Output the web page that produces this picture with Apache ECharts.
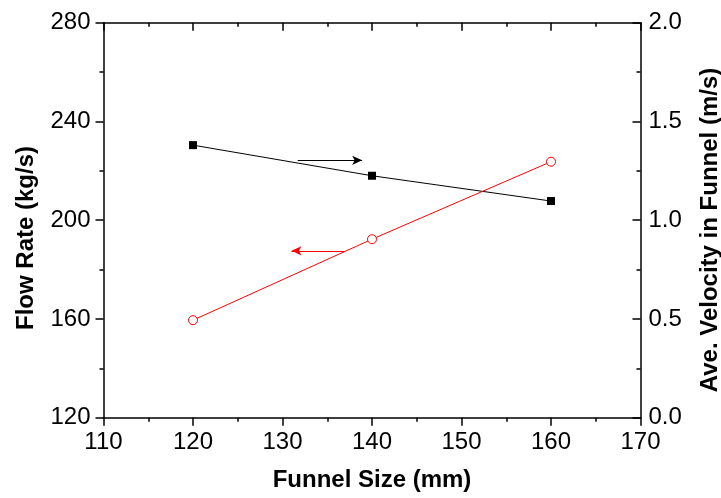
<!DOCTYPE html>
<html>
<head>
<meta charset="utf-8">
<script src="https://cdn.jsdelivr.net/npm/echarts@6/dist/echarts.min.js"></script>
<style>html,body{margin:0;padding:0;background:#fff;}#chart{width:721px;height:498px;}</style>
</head>
<body>
<div id="chart"></div>
<script>
// ---- data ----
var funnelSize = [120, 140, 160];
var flowRate = [159.5, 192.3, 223.7];        // kg/s, left axis
var aveVelocity = [1.38, 1.225, 1.097];      // m/s, right axis
// annotation arrows (data units): [xStart, xEnd, yValue]
var velocityArrow = [131.7, 138.9, 1.303];   // points to right axis
var flowArrow = [136.9, 131.0, 187.6];       // points to left axis
var xTicks = {min: 110, max: 170, interval: 10};
var leftTicks = {min: 120, max: 280, interval: 40};
var rightTicks = {min: 0, max: 2.0, interval: 0.5};
var xTitle = 'Funnel Size (mm)';
var leftTitle = 'Flow Rate (kg/s)';
var rightTitle = 'Ave. Velocity in Funnel (m/s)';

var FONT = 'Liberation Sans, Arial, Helvetica, sans-serif';
var lineStyle = {color: '#000', width: 1.5};
function xAxis(pos) {
  var top = pos === 'top';
  return {
    type: 'value', position: pos,
    min: xTicks.min, max: xTicks.max, interval: xTicks.interval,
    axisLine: {show: true, onZero: false, lineStyle: lineStyle},
    axisTick: {show: true, inside: top, length: 8, lineStyle: lineStyle},
    minorTick: {show: true, splitNumber: 2, length: 4, lineStyle: lineStyle},
    splitLine: {show: false},
    axisLabel: {show: !top, color: '#000', fontFamily: FONT, fontSize: 24, margin: 13},
    name: top ? '' : xTitle,
    nameLocation: 'middle', nameGap: 51,
    nameTextStyle: {color: '#000', fontFamily: FONT, fontSize: 24, fontWeight: 'bold'}
  };
}
var chart = echarts.init(document.getElementById('chart'), null, {renderer: 'canvas'});
chart.setOption({
  backgroundColor: '#fff',
  animation: false,
  grid: {left: 103.5, right: 80.5, top: 22.7, bottom: 80.3, containLabel: false, outerBoundsMode: 'none'},
  graphic: [
    {type: 'text', x: 26, y: 238, rotation: Math.PI / 2, silent: true,
     style: {text: leftTitle, fill: '#000', font: 'bold 24px ' + FONT, textAlign: 'center', textVerticalAlign: 'middle'}},
    {type: 'text', x: 710, y: 230, rotation: Math.PI / 2, silent: true,
     style: {text: rightTitle, fill: '#000', font: 'bold 24px ' + FONT, textAlign: 'center', textVerticalAlign: 'middle'}}
  ],
  xAxis: [xAxis('bottom'), xAxis('top')],
  yAxis: [
    {
      type: 'value', position: 'left',
      min: leftTicks.min, max: leftTicks.max, interval: leftTicks.interval,
      axisLine: {show: true, onZero: false, lineStyle: lineStyle},
      axisTick: {show: true, inside: false, length: 8, lineStyle: lineStyle},
      minorTick: {show: true, splitNumber: 2, length: 4, lineStyle: lineStyle},
      splitLine: {show: false},
      axisLabel: {color: '#000', fontFamily: FONT, fontSize: 24, margin: 13}
    },
    {
      type: 'value', position: 'right',
      min: rightTicks.min, max: rightTicks.max, interval: rightTicks.interval,
      axisLine: {show: true, onZero: false, lineStyle: lineStyle},
      axisTick: {show: true, inside: true, length: 8, lineStyle: lineStyle},
      minorTick: {show: true, splitNumber: 2, length: 4, lineStyle: lineStyle},
      splitLine: {show: false},
      axisLabel: {color: '#000', fontFamily: FONT, fontSize: 24, margin: 8,
        formatter: function (v) { return v.toFixed(1); }}
    }
  ],
  series: [
    {
      type: 'line', name: 'Ave. Velocity', xAxisIndex: 0, yAxisIndex: 1,
      data: funnelSize.map(function (x, i) { return [x, aveVelocity[i]]; }),
      symbol: 'rect', symbolSize: 8,
      itemStyle: {color: '#000'},
      lineStyle: {color: '#000', width: 1},
      markLine: {
        silent: true, symbol: ['none', 'arrow'], symbolSize: [7, 10],
        label: {show: false},
        lineStyle: {color: '#000', width: 1.2, type: 'solid'},
        data: [[{coord: [velocityArrow[0], velocityArrow[2]]}, {coord: [velocityArrow[1], velocityArrow[2]]}]]
      }
    },
    {
      type: 'line', name: 'Flow Rate', xAxisIndex: 0, yAxisIndex: 0,
      data: funnelSize.map(function (x, i) { return [x, flowRate[i]]; }),
      symbol: 'circle', symbolSize: 9,
      itemStyle: {color: '#fff', borderColor: '#ff0000', borderWidth: 1},
      lineStyle: {color: '#ff0000', width: 1},
      markLine: {
        silent: true, symbol: ['none', 'arrow'], symbolSize: [7, 10],
        label: {show: false},
        lineStyle: {color: '#ff0000', width: 1.2, type: 'solid'},
        data: [[{coord: [flowArrow[0], flowArrow[2]]}, {coord: [flowArrow[1], flowArrow[2]]}]]
      }
    }
  ]
});
</script>
</body>
</html>
